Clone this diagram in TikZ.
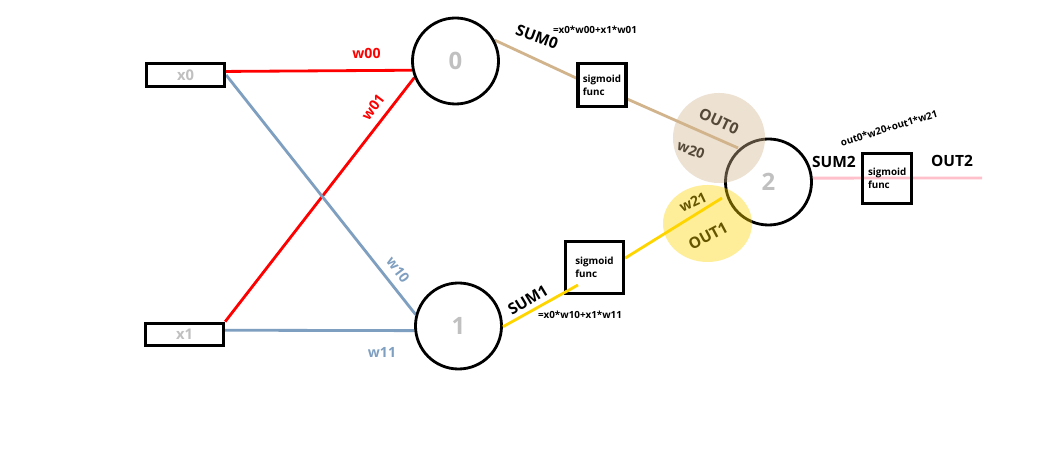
\documentclass[tikz,border=0pt]{standalone}
\usepackage{fontspec}
\setmainfont{Open Sans}
\usepackage{xcolor}
\usetikzlibrary{shapes.geometric, positioning, backgrounds, calc}
\definecolor{wgtred}{RGB}{255,0,0}
\definecolor{wgtblue}{RGB}{127,159,192}
\definecolor{sumtan}{RGB}{210,180,140}
\definecolor{sumgold}{RGB}{255,213,0}
\definecolor{outpink}{RGB}{255,192,203}
\definecolor{idgrey}{RGB}{192,192,192}
\tikzset{
  inbox/.style   = {rectangle, draw=black, line width=2.3pt, fill=white,
                    minimum width=1.95cm, minimum height=0.56cm, inner sep=0pt,
                    text=idgrey, font=\fontsize{10.5}{11}\selectfont\bfseries},
  neuron/.style  = {circle, draw=black, line width=2pt, minimum size=2.15cm,
                    inner sep=0pt, text=idgrey, font=\fontsize{17}{18}\selectfont\bfseries},
  sigbox/.style  = {rectangle, draw=black, line width=2.3pt, fill=white,
                    inner sep=0pt, align=left, font=\fontsize{7}{9}\selectfont\bfseries},
  glow/.style    = {ellipse, inner sep=0pt, fill opacity=0.4},
  redlink/.style = {line width=2pt, draw=wgtred},
  bluelink/.style= {line width=2pt, draw=wgtblue},
  tanlink/.style = {line width=2pt, draw=sumtan},
  goldlink/.style= {line width=2pt, draw=sumgold},
  pinklink/.style= {line width=2pt, draw=outpink},
  wlbl/.style    = {inner sep=0pt, font=\fontsize{10}{11}\selectfont\bfseries},
  sumlbl/.style  = {inner sep=0pt, font=\fontsize{11}{12}\selectfont\bfseries},
  eqlbl/.style   = {inner sep=0pt, font=\fontsize{7}{8}\selectfont\bfseries},
}

\begin{document}
\begin{tikzpicture}[x=0.025cm, y=-0.025cm]

  \path[use as bounding box] (0,0) rectangle (1061,451);

  % ── Inputs ──────────────────────────────────────────────────────
  \node[inbox]  (x0) at (185.5, 75)  {x0};
  \node[inbox]  (x1) at (184.5, 334.5) {x1};

  % ── Neurons ─────────────────────────────────────────────────────
  \node[neuron] (n0) at (455.5, 61)  {0};
  \node[neuron] (n1) at (458.5, 326) {1};
  \node[neuron] (n2) at (768.5, 182) {2};

  % ── Activation boxes ────────────────────────────────────────────
  \node[sigbox, minimum width=1.2cm, minimum height=1.075cm]
        (sig0) at (602, 85)    {sigmoid\\func};
  \node[sigbox, minimum width=1.45cm, minimum height=1.3cm]
        (sig1) at (594.5, 267.5) {sigmoid\\func};
  \node[sigbox, fill=none, minimum width=1.225cm, minimum height=1.25cm]
        (sig2) at (887, 178.5) {\raisebox{-6pt}{\parbox{0.95cm}{sigmoid\\func}}};

  % free ends of the links
  \coordinate (t0) at (738, 148);
  \coordinate (g1) at (578, 285);
  \coordinate (g2) at (722, 198);
  \coordinate (p2) at (982, 178);

  % ── Links (behind the boxes) ────────────────────────────────────
  \begin{pgfonlayer}{background}
    \fill[white] (0,0) rectangle (1061,451);
    \draw[redlink]  (x0.5) -- (n0.192);
    \draw[redlink]  (x1.north east) -- (n0.202);
    \draw[bluelink] (x0.east) -- (n1.165);
    \draw[bluelink] (x1.6) -- (n1.186);

    \draw[tanlink]  (n0.28) -- (sig0.165);
    \draw[tanlink]  (sig0.-29) -- (t0);
    \draw[goldlink] (sig1.17) -- (g2);
    \draw[pinklink] (n2.5) -- (p2);
  \end{pgfonlayer}

  % this one runs into the box
  \draw[goldlink] (n1.-1) -- (g1);

  % ── Weight labels ───────────────────────────────────────────────
  \node[wlbl, text=wgtred]  (lw00) at (366.5, 53)  {w00};
  \node[wlbl, text=wgtred, rotate=53]  (lw01) at (373, 107) {w01};
  \node[wlbl, text=wgtblue, rotate=-53] (lw10) at (398, 270) {w10};
  \node[wlbl, text=wgtblue] (lw11) at (382, 352) {w11};
  \node[wlbl, rotate=-20]   (lw20) at (691, 150) {w20};
  \node[wlbl, rotate=25]    (lw21) at (693, 202) {w21};

  % ── Sums and outputs ────────────────────────────────────────────
  \node[sumlbl, rotate=-20] (lsum0) at (537, 37)  {SUM0};
  \node[eqlbl]              (leq0)  at (595, 30)  {=x0*w00+x1*w01};
  \node[sumlbl, rotate=31]  (lsum1) at (528, 300) {SUM1};
  \node[eqlbl]              (leq1)  at (580, 315) {=x0*w10+x1*w11};
  \node[sumlbl]             (lsum2) at (834, 162) {SUM2};
  \node[eqlbl, rotate=17]   (leq2)  at (889, 128) {out0*w20+out1*w21};
  \node[sumlbl]             (lout2) at (952, 161) {OUT2};
  \node[sumlbl, rotate=-25] (lout0) at (719, 121) {OUT0};
  \node[sumlbl, rotate=28]  (lout1) at (708, 236) {OUT1};

  % ── Highlights on top ───────────────────────────────────────────
  \node[glow, fill=sumtan,  minimum width=2.3cm,   minimum height=2.25cm]
        (hl0) at (719, 138) {};
  \node[glow, fill=sumgold, minimum width=2.225cm, minimum height=1.925cm]
        (hl1) at (707.5, 223.5) {};

\end{tikzpicture}
\end{document}
